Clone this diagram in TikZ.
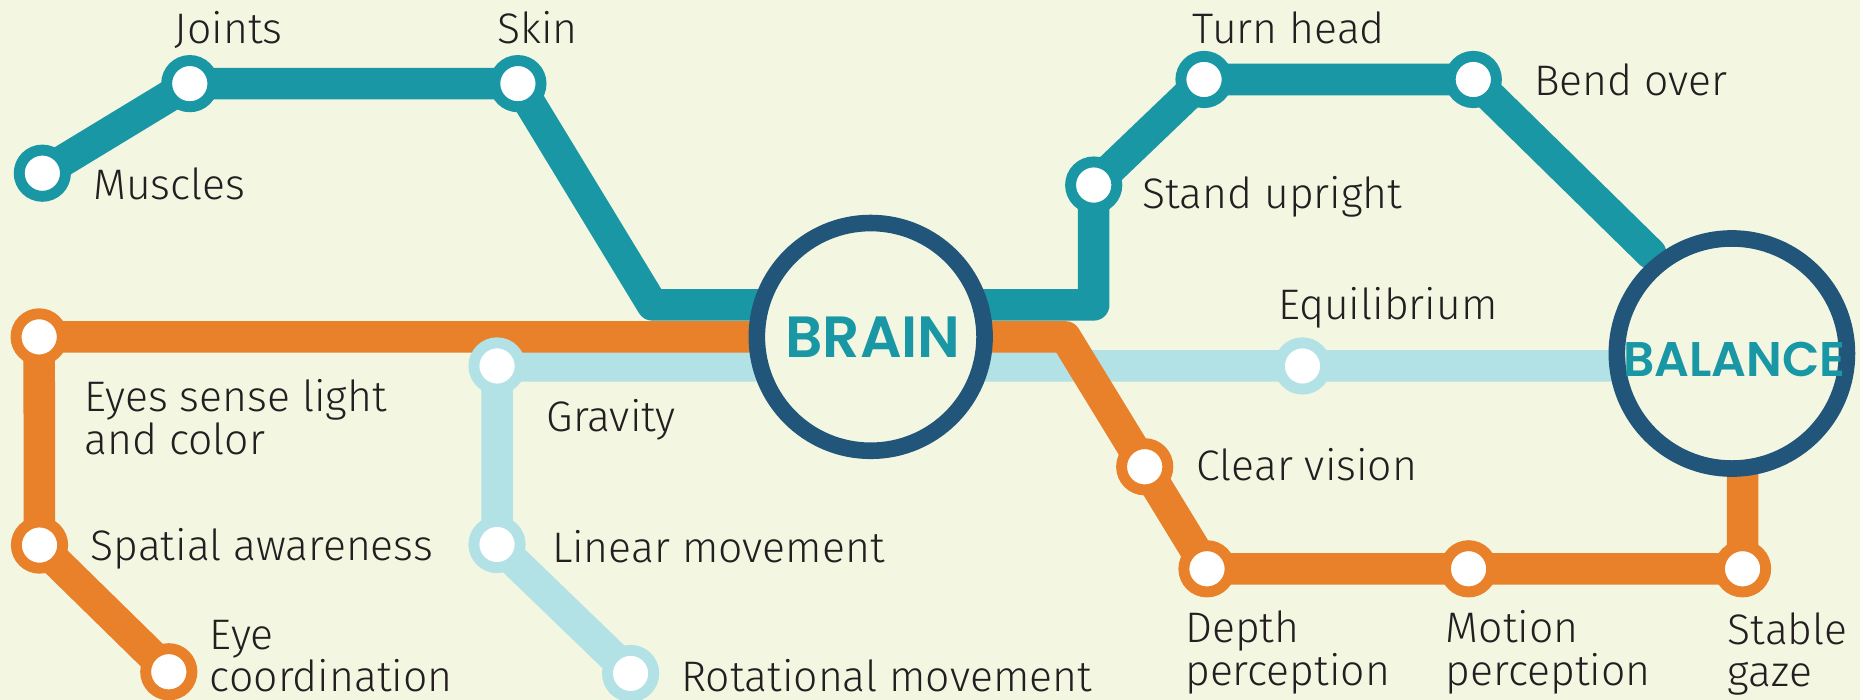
\documentclass[tikz,border=0pt]{standalone}
\usepackage{fontspec}
\setmainfont{Fira Sans}[UprightFont=* Light]
\newfontfamily\hubfont{Poppins}[BoldFont=* SemiBold]
\definecolor{paper}{HTML}{F3F7E2}
\definecolor{tealline}{HTML}{1A97A5}
\definecolor{orangeline}{HTML}{E8812A}
\definecolor{skyline}{HTML}{B2E1E6}
\definecolor{hubring}{HTML}{22557A}
\definecolor{ink}{HTML}{231F20}
\pgfdeclarelayer{paperlayer}
\pgfdeclarelayer{routes}
\pgfsetlayers{paperlayer,routes,main}
\begin{document}
\begin{tikzpicture}[x=0.5pt,y=-0.5pt,
  route/.style={line width=13.3pt, line join=round, line cap=round},
  station/.style={circle, draw=#1, fill=white, line width=4.6pt, minimum size=19.5pt, inner sep=0pt},
  hub/.style={circle, draw=hubring, fill=paper, line width=7pt, minimum size=#1, inner sep=0pt},
  tag/.style={anchor=base west, inner sep=0pt, text=ink, font=\fontsize{18}{18}\selectfont, align=left},
  hubtext/.style={anchor=base, inner sep=0pt, text=tealline, font=\hubfont\bfseries\fontsize{#1}{#1}\selectfont}
]
\begin{pgfonlayer}{paperlayer}
  \fill[paper] (0,0) rectangle (1568,590);
\end{pgfonlayer}
\useasboundingbox (0,0) rectangle (1568,590);

% interchange hubs
\node[hub=96pt] (brain) at (734,284) {};
\node[hub=97pt] (balance) at (1460,298) {};
\node[hubtext=24.5] (braintext) at (736,301) {BRAIN};
\node[hubtext=20.5] (balancetext) at (1462,317) {BALANCE};

% teal line stations
\node[station=tealline] (muscles) at (35.7,146) {};
\node[station=tealline] (joints) at (160,70.5) {};
\node[station=tealline] (skin) at (436.6,70.5) {};
\node[station=tealline] (upright) at (922,156) {};
\node[station=tealline] (turn) at (1015,67) {};
\node[station=tealline] (bend) at (1242,67) {};
\coordinate (t1) at (550,257);
\coordinate (t2) at (922,257);
\coordinate (tend) at (1391.5,213.6);

% orange line stations
\node[station=orangeline] (eyes) at (33,284) {};
\node[station=orangeline] (spatial) at (33.3,459.5) {};
\node[station=orangeline] (coord) at (142.3,566.3) {};
\node[station=orangeline] (clear) at (965,393.5) {};
\node[station=orangeline] (depth) at (1017.5,479.5) {};
\node[station=orangeline] (motion) at (1238,479.5) {};
\node[station=orangeline] (stable) at (1469,479.5) {};
\coordinate (o1) at (898,284);
\coordinate (oend) at (1469,380);

% light blue line stations
\node[station=skyline] (gravity) at (419,308.5) {};
\node[station=skyline] (linear) at (419,459) {};
\node[station=skyline] (rot) at (531.6,567.7) {};
\node[station=skyline] (equil) at (1098,308.5) {};
\coordinate (send) at (1400,308.5);

% the three routes
\begin{pgfonlayer}{routes}
  \draw[route, skyline] (rot.center) -- (linear.center) -- (gravity.center)
    -- (equil.center) -- (send);
  \draw[route, orangeline] (coord.center) -- (spatial.center) -- (eyes.center)
    -- (o1) -- (clear.center) -- (depth.center) -- (motion.center)
    -- (stable.center) -- (oend);
  \draw[route, tealline] (muscles.center) -- (joints.center) -- (skin.center)
    -- (t1) -- (t2) -- (upright.center) -- (turn.center) -- (bend.center) -- (tend);
\end{pgfonlayer}

% station names (multi-line names sit on the baseline of their last line)
\node[tag] (lmuscles) at (78.3,167.8) {Muscles};
\node[tag] (ljoints) at (147,36.6) {Joints};
\node[tag] (lskin) at (419,36.6) {Skin};
\node[tag] (lturn) at (1005,36.5) {Turn head};
\node[tag] (lbend) at (1293,80.7) {Bend over};
\node[tag] (lupright) at (962.5,175.6) {Stand upright};
\node[tag] (lequil) at (1077,269.2) {Equilibrium};
\node[tag] (leyes) at (70.7,382.8) {Eyes sense light\\and color};
\node[tag] (lgravity) at (460.6,364) {Gravity};
\node[tag] (lclear) at (1008.5,405.3) {Clear vision};
\node[tag] (lspatial) at (76,472.2) {Spatial awareness};
\node[tag] (llinear) at (465,474.4) {Linear movement};
\node[tag] (lcoord) at (176.6,583.2) {Eye\\coordination};
\node[tag] (lrot) at (574,583.2) {Rotational movement};
\node[tag] (ldepth) at (998.8,577.6) {Depth\\perception};
\node[tag] (lmotion) at (1218.4,577.6) {Motion\\perception};
\node[tag] (lstable) at (1456,579) {Stable\\gaze};
\end{tikzpicture}
\end{document}
